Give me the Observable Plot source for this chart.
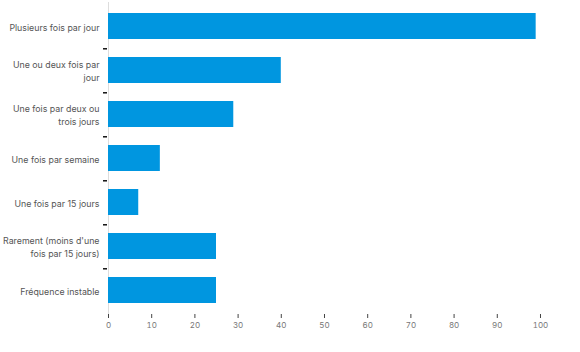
<!DOCTYPE html>
<html><head><meta charset="utf-8">
<script src="https://cdn.jsdelivr.net/npm/d3@7"></script>
<script src="https://cdn.jsdelivr.net/npm/@observablehq/plot@0.6"></script>
<style>body{margin:0;background:#fff}</style>
</head><body><div id="chart"></div>
<script>
const categories = ["Plusieurs fois par jour","Une ou deux fois par jour","Une fois par deux ou trois jours","Une fois par semaine","Une fois par 15 jours","Rarement (moins d'une fois par 15 jours)","Fréquence instable"];
const labels = ["Plusieurs fois par jour","Une ou deux fois par\njour","Une fois par deux ou\ntrois jours","Une fois par semaine","Une fois par 15 jours","Rarement (moins d'une\nfois par 15 jours)","Fréquence instable"];
const values = [99, 40, 29, 12, 7, 25, 25];
const xTicks = [0,10,20,30,40,50,60,70,80,90,100];

const data = categories.map((c,i)=>({cat:c, value:values[i]}));
const labelOf = new Map(categories.map((c,i)=>[c,labels[i]]));
const W = 580, H = 352, mt = 2, mb = 38;
const step = (H - mt - mb) / categories.length;

const chart = Plot.plot({
  width: W, height: H,
  marginLeft: 108, marginRight: 2, marginTop: mt, marginBottom: mb,
  style: {fontFamily: "Inter, 'Liberation Sans', sans-serif", fontSize: "8px", color: "#555", background: "#fff"},
  x: {domain: [0, 108.8], label: null},
  y: {domain: categories, paddingInner: 0.41, paddingOuter: 0.205, label: null},
  marks: [
    Plot.ruleY([0], {frameAnchor: "bottom", stroke: "#ddd", insetLeft: -5}),
    Plot.ruleX([0], {stroke: "#ddd"}),
    Plot.barX(data, {x: "value", y: "cat", fill: "#0096e0"}),
    Plot.axisX({ticks: xTicks, tickSize: 4, tickPadding: 4, stroke: "#444", fill: "#777", label: null}),
    Plot.axisY({tickSize: 0, tickPadding: 9, tickFormat: d => labelOf.get(d), fill: "#555", fontSize: 8.8, lineHeight: 1.45, label: null}),
    Plot.axisY({ticks: categories.slice(0, -1), tickSize: 4, tickPadding: 1, tickFormat: () => "", stroke: "#111", strokeWidth: 1.5, dy: step/2, dx: -1, label: null})
  ]
});
document.getElementById("chart").append(chart);
</script></body></html>
